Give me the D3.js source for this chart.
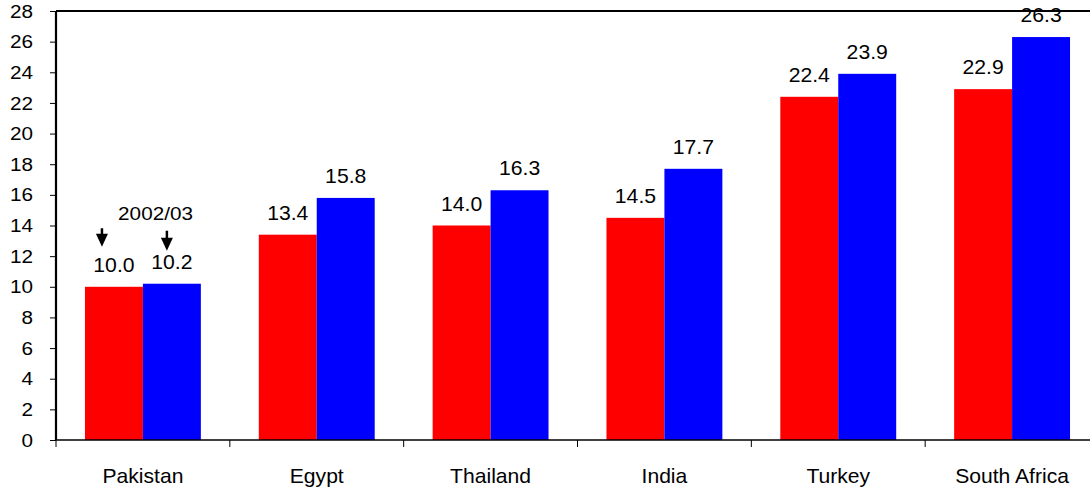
<!DOCTYPE html>
<html><head><meta charset="utf-8">
<script src="https://cdn.jsdelivr.net/npm/d3@7"></script>
<style>
html,body{margin:0;padding:0;background:#fff;}
svg text{font-family:"Liberation Sans",Arial,sans-serif;fill:#000;}
</style></head>
<body><svg id="c" width="1090" height="488"></svg>
<script>
const categories = ["Pakistan","Egypt","Thailand","India","Turkey","South Africa"];
const seriesRed  = [10.0, 13.4, 14.0, 14.5, 22.4, 22.9];
const seriesBlue = [10.2, 15.8, 16.3, 17.7, 23.9, 26.3];
const yTicks = [0,2,4,6,8,10,12,14,16,18,20,22,24,26,28];
const annotationText = "2002/03";

const svg = d3.select("#c");
const mLeft = 56, mRight = 1099, mTop = 11, mBottom = 440;

const x = d3.scaleBand().domain(categories).range([mLeft, mRight]).paddingInner(0).paddingOuter(0);
const inner = d3.scaleBand().domain(["red","blue"]).range([0, x.bandwidth()]).paddingOuter(0.5).paddingInner(0);
const y = d3.scaleLinear().domain([0, 28]).range([mBottom, mTop]);

const series = [{key:"red", color:"#ff0000", values:seriesRed},{key:"blue", color:"#0000ff", values:seriesBlue}];

function wideText(sel, sx) {
  // place text at (px,py) with a horizontal stretch
  sel.attr("transform", function(){
    const px = +this.getAttribute("data-x"), py = +this.getAttribute("data-y");
    return `translate(${px},${py}) scale(${sx},1)`;
  });
}

// bars
series.forEach(s => {
  svg.append("g").selectAll("rect").data(categories).join("rect")
    .attr("x", d => x(d) + inner(s.key))
    .attr("width", inner.bandwidth())
    .attr("y", (d,i) => y(s.values[i]))
    .attr("height", (d,i) => y(0) - y(s.values[i]))
    .attr("fill", s.color);
});

// value labels
series.forEach(s => {
  svg.append("g").selectAll("text").data(categories).join("text")
    .attr("data-x", d => x(d) + inner(s.key) + inner.bandwidth()/2)
    .attr("data-y", (d,i) => y(s.values[i]) - 15)
    .attr("text-anchor","middle")
    .attr("font-size", 20)
    .text((d,i) => s.values[i].toFixed(1))
    .call(wideText, 1.06);
});

// y axis
const yAxis = d3.axisLeft(y).tickValues(yTicks).tickSize(6).tickPadding(17).tickFormat(d3.format("d"));
const gy = svg.append("g").attr("transform", `translate(${mLeft},0)`).call(yAxis);
gy.select(".domain").attr("stroke","#000").attr("stroke-width",2.2).attr("d", `M0,${mTop}V${mBottom}`);
gy.selectAll(".tick line").attr("stroke","#000").attr("stroke-width",1);
gy.selectAll(".tick text").attr("font-size",19).attr("font-family","Liberation Sans, Arial, sans-serif").attr("fill","#000")
  .attr("transform", function(){ return `translate(${this.getAttribute("x")},0) scale(1.09,1) translate(${-this.getAttribute("x")},0)`; });

// x axis with ticks at band boundaries
const boundaries = categories.map(c => x(c));
const gx = svg.append("g");
gx.append("line").attr("x1", mLeft).attr("x2", mRight).attr("y1", mBottom).attr("y2", mBottom).attr("stroke","#000").attr("stroke-width",1.6);
gx.selectAll("line.t").data(boundaries).join("line").attr("class","t")
  .attr("x1", d => d).attr("x2", d => d).attr("y1", mBottom).attr("y2", mBottom + 7)
  .attr("stroke","#000").attr("stroke-width",1);
gx.selectAll("text").data(categories).join("text")
  .attr("data-x", d => x(d) + x.bandwidth()/2)
  .attr("data-y", 483)
  .attr("text-anchor","middle")
  .attr("font-size", 20.5)
  .text(d => d)
  .call(wideText, 1.03);

// top border
svg.append("line").attr("x1", mLeft).attr("x2", mRight).attr("y1", mTop).attr("y2", mTop).attr("stroke","#000").attr("stroke-width",2.2);

// annotation: "2002/03" with arrows (data coordinates)
const arrows = [{series:"red", dx:-12, from:13.82, to:12.62},{series:"blue", dx:-5, from:13.66, to:12.36}];
const cat0 = categories[0];
arrows.forEach(a => {
  const ax = x(cat0) + inner(a.series) + inner.bandwidth()/2 + a.dx;
  const y1 = y(a.from), y2 = y(a.to);
  svg.append("line").attr("x1", ax).attr("x2", ax).attr("y1", y1).attr("y2", y2 - 11).attr("stroke","#000").attr("stroke-width",2.5);
  svg.append("path").attr("d", `M${ax-6},${y2-13}L${ax+6},${y2-13}L${ax},${y2}Z`).attr("fill","#000");
});
svg.append("text")
  .attr("data-x", x(cat0) + x.bandwidth()/2 + 12.6)
  .attr("data-y", y(14.36))
  .attr("text-anchor","middle")
  .attr("font-size", 19)
  .text(annotationText)
  .call(wideText, 1.09);
</script>
</body></html>
